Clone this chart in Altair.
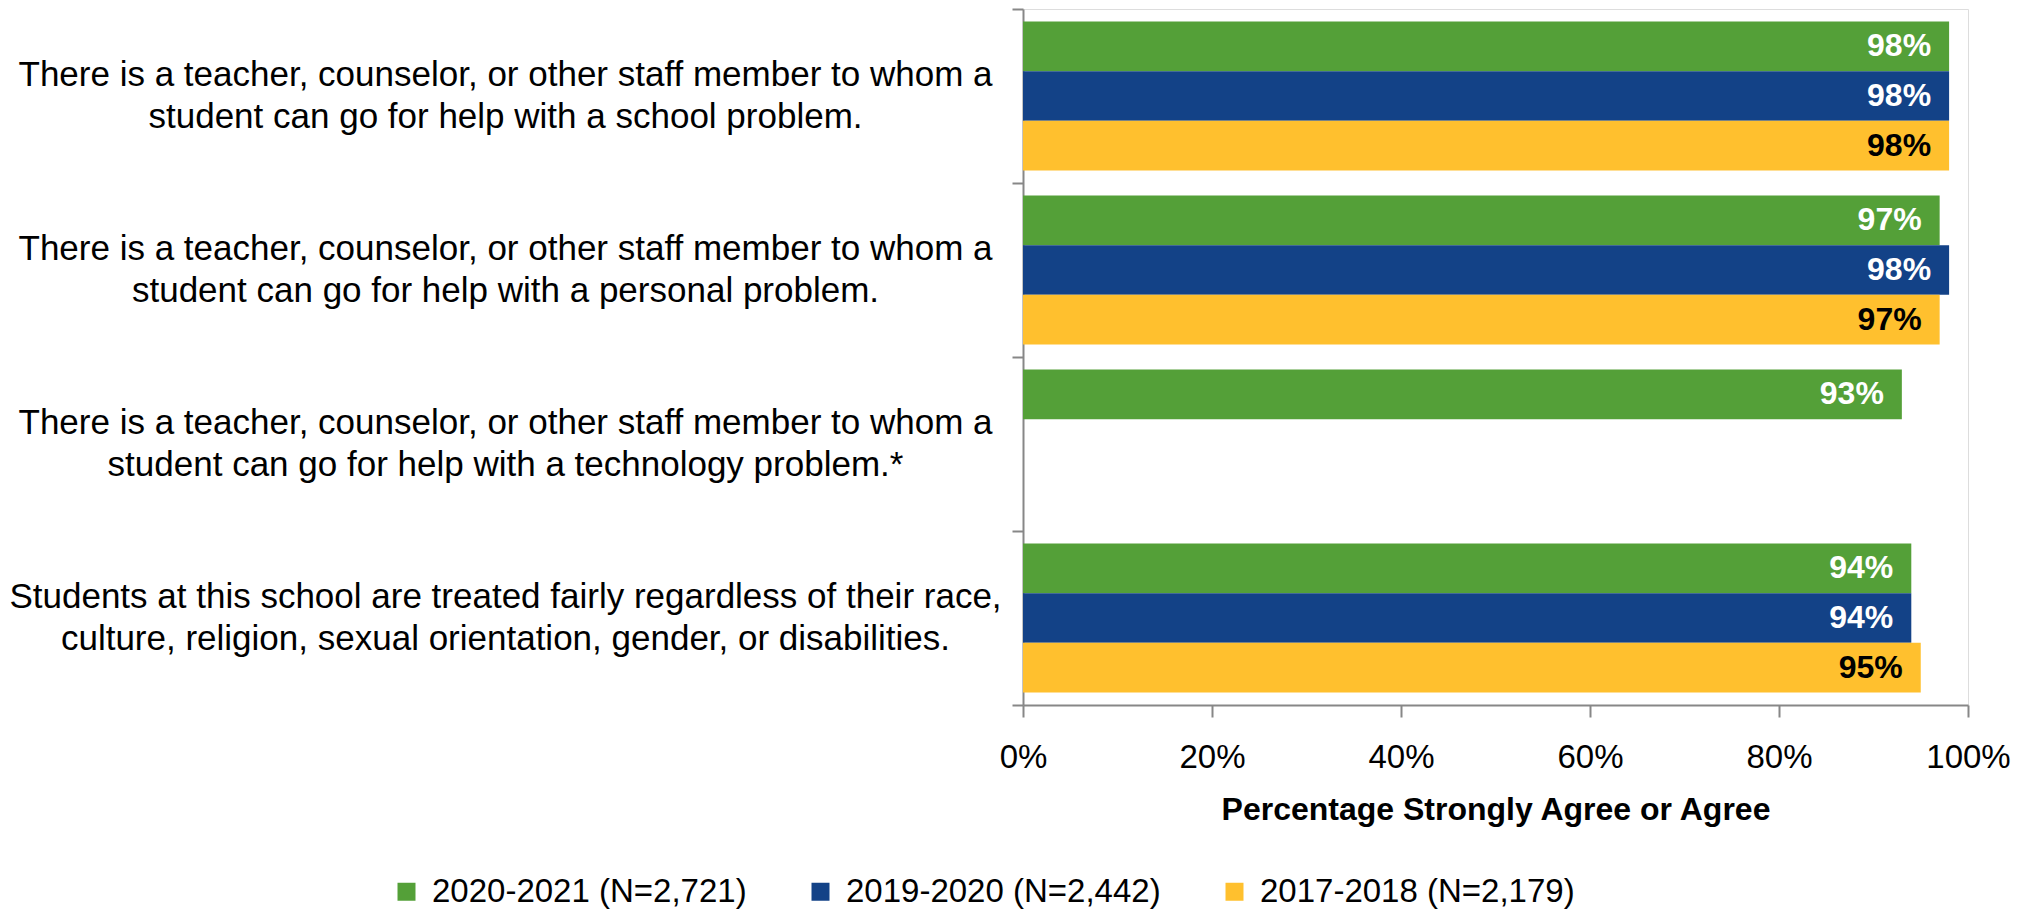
import altair as alt
import pandas as pd

label_lines = [
    ["There is a teacher, counselor, or other staff member to whom a",
     "student can go for help with a school problem."],
    ["There is a teacher, counselor, or other staff member to whom a",
     "student can go for help with a personal problem."],
    ["There is a teacher, counselor, or other staff member to whom a",
     "student can go for help with a technology problem.*"],
    ["Students at this school are treated fairly regardless of their race,",
     "culture, religion, sexual orientation, gender, or disabilities."],
]
categories = [" ".join(l) for l in label_lines]

series = ["2020-2021 (N=2,721)", "2019-2020 (N=2,442)", "2017-2018 (N=2,179)"]
bar_colors = ["#54A038", "#134287", "#FFC02E"]
text_colors = ["#FFFFFF", "#FFFFFF", "#000000"]

values_2020_2021 = [98, 97, 93, 94]
values_2019_2020 = [98, 98, None, 94]
values_2017_2018 = [98, 97, None, 95]

rows = []
for s, vals, tc in zip(series, [values_2020_2021, values_2019_2020, values_2017_2018], text_colors):
    for c, v in zip(categories, vals):
        if v is None:
            continue
        rows.append({"question": c, "series": s, "value": v,
                     "label": f"{v}%", "tcolor": tc})
df = pd.DataFrame(rows)


def js(s):
    return "'" + s.replace("\\", "\\\\").replace("'", "\\'") + "'"


label_expr = ""
for c, lines in zip(categories, label_lines):
    label_expr += f"datum.label == {js(c)} ? [{js(lines[0])}, {js(lines[1])}] : "
label_expr += "datum.label"

FONT = "Liberation Sans"
AXIS_COLOR = "#878787"

y_enc = alt.Y(
    "question:N",
    sort=categories,
    scale=alt.Scale(domain=categories, paddingInner=0, paddingOuter=0),
    axis=alt.Axis(
        title=None,
        tickBand="extent",
        labelExpr=label_expr,
        labelAlign="center",
        labelBaseline="middle",
        labelPadding=507,
        labelOffset=-22,
        labelFontSize=35,
        labelLineHeight=42,
        labelLimit=1200,
        labelColor="#000000",
        labelFont=FONT,
        tickSize=11,
        tickWidth=2,
        tickColor=AXIS_COLOR,
        domainColor=AXIS_COLOR,
        domainWidth=2,
        grid=False,
    ),
)
yoff_enc = alt.YOffset(
    "series:N",
    sort=series,
    scale=alt.Scale(domain=series, paddingInner=0, paddingOuter=0.2515),
)
x_enc = alt.X(
    "value:Q",
    scale=alt.Scale(domain=[0, 100]),
    axis=alt.Axis(
        values=[0, 20, 40, 60, 80, 100],
        labelExpr="datum.value + '%'",
        labelFontSize=33,
        labelFont=FONT,
        labelColor="#000000",
        labelPadding=24,
        labelFlush=False,
        grid=False,
        tickSize=12,
        tickWidth=2,
        tickColor=AXIS_COLOR,
        domainColor=AXIS_COLOR,
        domainWidth=2,
        title="Percentage Strongly Agree or Agree",
        titleFontSize=32,
        titleFontWeight="bold",
        titleFont=FONT,
        titleColor="#000000",
        titlePadding=20,
    ),
)

bars = alt.Chart(df).mark_bar().encode(
    x=x_enc,
    y=y_enc,
    yOffset=yoff_enc,
    color=alt.Color(
        "series:N",
        sort=series,
        scale=alt.Scale(domain=series, range=bar_colors),
        legend=alt.Legend(
            title=None,
            orient="none",
            legendX=-633,
            legendY=866,
            direction="horizontal",
            symbolType="square",
            symbolSize=324,
            symbolStrokeWidth=0,
            labelFontSize=33,
            labelFont=FONT,
            labelColor="#000000",
            labelLimit=600,
            labelOffset=9,
            columnPadding=57,
            padding=0,
        ),
    ),
)

texts = alt.Chart(df).mark_text(
    align="right", baseline="middle", dx=-18, fontSize=32, fontWeight="bold", font=FONT
).encode(
    x=alt.X("value:Q"),
    y=alt.Y("question:N", sort=categories),
    yOffset=alt.YOffset("series:N", sort=series),
    text=alt.Text("label:N"),
    color=alt.Color("tcolor:N", scale=None),
)

chart = (
    alt.layer(bars, texts)
    .properties(
        width=945,
        height=696,
        autosize=alt.AutoSizeParams(type="none"),
        padding={"left": 1015, "top": 1, "right": 52, "bottom": 210},
    )
    .configure_view(stroke=None)
    .configure(font=FONT, background="#FFFFFF")
)

chart.save("out.html", embed_options={"renderer": "svg", "actions": False})
